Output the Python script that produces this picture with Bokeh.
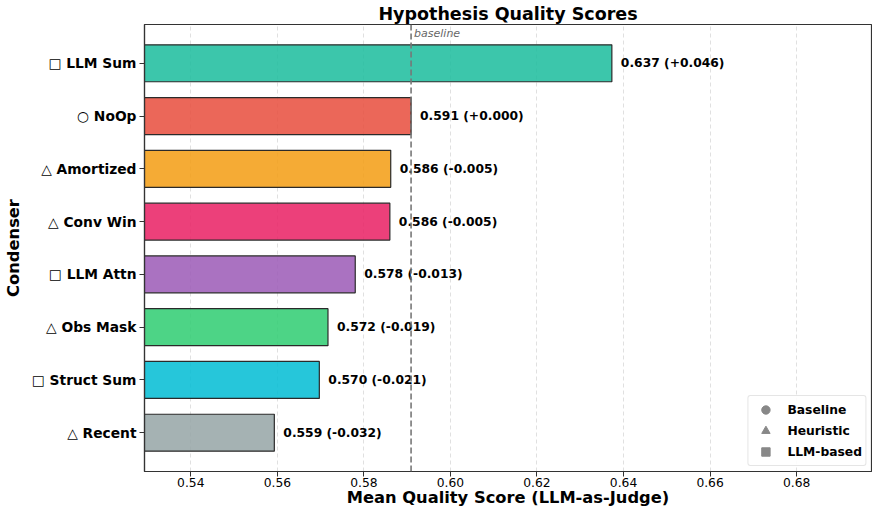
from bokeh.plotting import figure
from bokeh.models import (Range1d, FixedTicker, PrintfTickFormatter, Span, Label,
                          ColumnDataSource, Legend, LegendItem)
from bokeh.core.properties import value
from bokeh.embed import file_html
from bokeh.resources import INLINE

# ---- data ----
condensers = ["LLM Sum", "NoOp", "Amortized", "Conv Win", "LLM Attn", "Obs Mask", "Struct Sum", "Recent"]
kinds = ["LLM-based", "Baseline", "Heuristic", "Heuristic", "LLM-based", "Heuristic", "LLM-based", "Heuristic"]
scores = [0.6373, 0.5909, 0.5862, 0.5860, 0.5780, 0.5717, 0.5697, 0.5593]
colors = ["#1abc9c", "#e74c3c", "#f39c12", "#e91e63", "#9b59b6", "#2ecc71", "#00bcd4", "#95a5a6"]
baseline = 0.5909
x_ticks = [0.54, 0.56, 0.58, 0.60, 0.62, 0.64, 0.66, 0.68]
kind_symbol = {"Baseline": "\u25cb", "Heuristic": "\u25b3", "LLM-based": "\u25a1"}
legend_kinds = ["Baseline", "Heuristic", "LLM-based"]
legend_markers = ["circle", "triangle", "square"]

FONT = "DejaVu Sans"
n = len(condensers)
ypos = [n - 1 - i for i in range(n)]
labels = [f"{s:.3f} ({s - baseline:+.3f})" for s in scores]
tick_names = {ypos[i]: f"{kind_symbol[kinds[i]]} {condensers[i]}" for i in range(n)}

xmin = min(scores) - 0.03
xmax = max(scores) + 0.06

p = figure(width=872, height=509, output_backend="svg", toolbar_location=None,
           x_range=Range1d(xmin, xmax), y_range=Range1d(-0.735, n - 1 + 0.735),
           min_border_left=134, min_border_right=1, min_border_top=20, min_border_bottom=0)

p.title.text = "Hypothesis Quality Scores"
p.title.text_font = FONT
p.title.text_font_size = "17.5px"
p.title.text_font_style = "bold"
p.title.align = "center"
p.title.standoff = 2
p.title.text_color = "#000000"

src = ColumnDataSource(dict(y=ypos, score=scores, color=colors, label=labels))

p.hbar(y="y", left=0, right="score", height=0.7, source=src,
       fill_color="color", fill_alpha=0.85, line_color="#2a2a2a", line_width=1.2)

p.text(x="score", y="y", text="label", source=src, x_offset=9,
       text_font=value(FONT), text_font_style="bold", text_font_size="12.3px",
       text_baseline="middle", text_align="left", text_color="#000000")

# baseline line
p.add_layout(Span(location=baseline, dimension="height", line_color="#777777",
                  line_dash="6 3", line_width=1.6))
p.add_layout(Label(x=baseline, y=n - 1 + 0.735, text="baseline", x_offset=3, y_offset=-2,
                   text_baseline="top", text_font=FONT, text_font_style="italic",
                   text_font_size="11px", text_color="#666666"))

# axes
p.xaxis.ticker = FixedTicker(ticks=x_ticks)
p.xaxis.formatter = PrintfTickFormatter(format="%.2f")
p.yaxis.ticker = FixedTicker(ticks=ypos)
p.yaxis.major_label_overrides = tick_names
for ax in (p.xaxis, p.yaxis):
    ax.major_tick_out = 5
    ax.major_tick_in = 0
    ax.minor_tick_out = 0
    ax.minor_tick_in = 0
    ax.axis_line_color = "#333333"
    ax.axis_line_width = 1.2
    ax.major_tick_line_color = "#333333"
    ax.axis_label_text_font = FONT
    ax.axis_label_text_font_style = "bold"
    ax.axis_label_text_font_size = "16.3px"
    ax.axis_label_text_color = "#000000"
    ax.major_label_text_font = FONT
    ax.major_label_text_color = "#000000"

p.xaxis.axis_label = "Mean Quality Score (LLM-as-Judge)"
p.yaxis.axis_label = "Condenser"
p.xaxis.major_label_text_font_size = "12.3px"
p.yaxis.major_label_text_font_size = "13.8px"
p.yaxis.major_label_text_font_style = "bold"
p.xaxis.major_label_standoff = 1
p.yaxis.major_label_standoff = 3
p.xaxis.axis_label_standoff = -2
p.yaxis.axis_label_standoff = 6

p.xgrid.grid_line_color = "#cccccc"
p.xgrid.grid_line_alpha = 0.6
p.xgrid.grid_line_dash = "4 3"
p.ygrid.grid_line_color = None

p.outline_line_color = "#333333"
p.outline_line_width = 1.2
p.outline_line_alpha = 1.0

# legend with proxy glyphs (NaN data: never drawn in the plot)
nan = float("nan")
items = []
for k, m in zip(legend_kinds, legend_markers):
    r = p.scatter(x=[nan], y=[nan], marker=m, size=11, fill_color="#888888", line_color="#888888")
    items.append(LegendItem(label=k, renderers=[r]))
leg = Legend(items=items, location="bottom_right", label_text_font=FONT,
             label_text_font_style="bold", label_text_font_size="12.3px",
             label_text_color="#000000",
             border_line_color="#cccccc", border_line_width=1, background_fill_alpha=0.9,
             border_radius=3, padding=3, spacing=0, label_height=21, glyph_height=21,
             glyph_width=28, margin=5, label_standoff=8)
p.add_layout(leg)

open("out.html", "w").write(file_html(p, INLINE))
